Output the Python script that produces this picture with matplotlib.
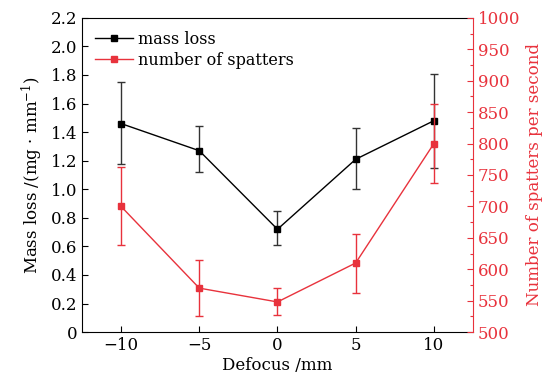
import matplotlib
matplotlib.use("Agg")
import matplotlib.pyplot as plt
from matplotlib.lines import Line2D
from matplotlib.ticker import MultipleLocator, FuncFormatter

plt.rcParams["font.family"] = ["DejaVu Serif"]
plt.rcParams["mathtext.fontset"] = "dejavuserif"

defocus = [-10, -5, 0, 5, 10]
mass_loss = [1.46, 1.27, 0.72, 1.21, 1.48]
mass_err_up = [0.29, 0.17, 0.13, 0.22, 0.33]
mass_err_low = [0.28, 0.15, 0.11, 0.21, 0.33]
spatters = [700, 570, 548, 610, 800]
spatter_err_up = [62, 44, 22, 46, 63]
spatter_err_low = [62, 45, 20, 47, 63]

RED = "#e8323c"

fig = plt.figure(figsize=(5.5, 3.8), dpi=100)
ax = fig.add_axes([0.149, 0.126, 0.711, 0.827])
ax2 = ax.twinx()

ax.errorbar(defocus, mass_loss, yerr=[mass_err_low, mass_err_up], color="black",
            marker="s", markersize=5, linewidth=1.0, elinewidth=1.0, capsize=3,
            ecolor="#333333", zorder=3)
ax2.errorbar(defocus, spatters, yerr=[spatter_err_low, spatter_err_up], color=RED,
             marker="s", markersize=5, linewidth=1.0, elinewidth=1.0, capsize=3)

ax.set_xlim(-12.5, 12.5)
ax.set_ylim(0, 2.2)
ax2.set_ylim(500, 1000)
ax.set_xticks([-10, -5, 0, 5, 10])
ax.set_xticklabels(["\u221210", "\u22125", "0", "5", "10"])
ax.yaxis.set_major_locator(MultipleLocator(0.2))
ax.yaxis.set_major_formatter(FuncFormatter(lambda v, p: "0" if abs(v) < 1e-9 else f"{v:.1f}"))
ax2.yaxis.set_major_locator(MultipleLocator(50))
ax2.yaxis.set_minor_locator(MultipleLocator(25))

ax.tick_params(direction="in", labelsize=12, length=4, width=0.8)
ax2.tick_params(axis="y", which="both", direction="in", colors=RED, labelsize=12, width=0.8)
ax2.tick_params(axis="y", which="major", length=4)
ax2.tick_params(axis="y", which="minor", length=2)
ax2.spines["right"].set_color(RED)
for s in ["left", "top", "bottom"]:
    ax2.spines[s].set_visible(False)
ax.spines["right"].set_visible(False)

ax.set_xlabel("Defocus /mm", fontsize=12, labelpad=2)
ax.set_ylabel("Mass loss /(mg \u00b7 mm$^{-1}$)", fontsize=12, labelpad=4)
ax2.set_ylabel("Number of spatters per second", fontsize=12, color=RED, labelpad=4)

handles = [
    Line2D([], [], color="black", marker="s", markersize=4, linewidth=1.0),
    Line2D([], [], color=RED, marker="s", markersize=4, linewidth=1.0),
]
ax.legend(handles, ["mass loss", "number of spatters"], loc="upper left", frameon=False,
          fontsize=11.5, handlelength=2.4, handletextpad=0.3, borderaxespad=0.4,
          labelspacing=0.25)

fig.savefig("out.png", dpi=100)
